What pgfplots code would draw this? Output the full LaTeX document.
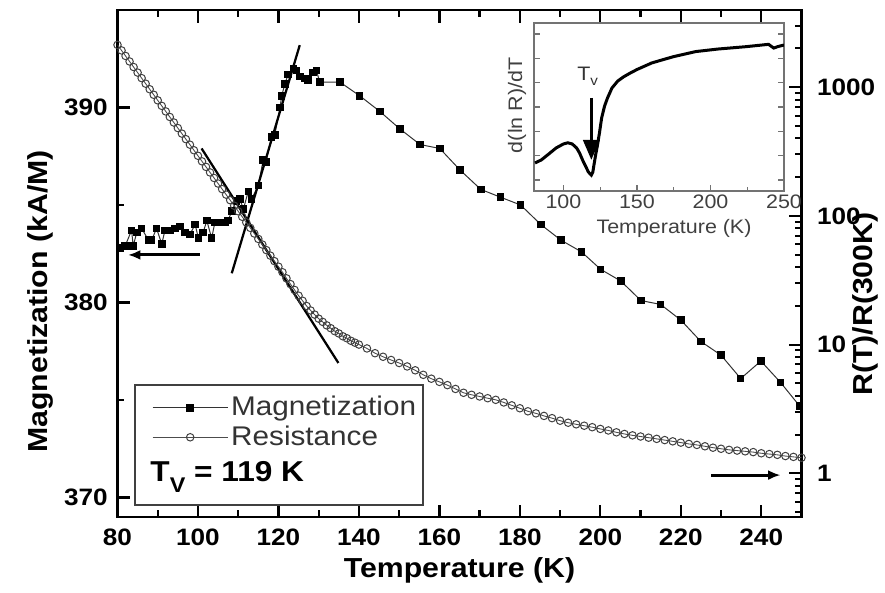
\documentclass[border=0pt]{standalone}
\usepackage{fontspec}
\setmainfont{Liberation Sans}[FakeStretch=1.1]
\usepackage{pgfplots}
\pgfplotsset{compat=1.18}
\usetikzlibrary{arrows.meta}

% 1 px of the reference = 0.4pt
\begin{document}
\begin{tikzpicture}
\useasboundingbox (-47pt,-30pt) rectangle (307pt,206.8pt);

% ---- main axis: magnetization (left, linear)
\begin{axis}[
    at={(0pt,0pt)}, anchor=south west,
    scale only axis, width=273.6pt, height=202.8pt,
    xmin=80, xmax=250, ymin=369, ymax=395,
    xtick={80,100,...,240}, minor x tick num=1,
    ytick={370,380,390}, minor y tick num=1,
    xtick pos=both, ytick pos=left, tick align=inside,
    major tick length=5pt, minor tick length=2.8pt,
    axis line style={line width=1pt},
    every tick/.append style={line width=0.9pt, black},
    /pgf/number format/assume math mode=true,
    ticklabel style={font=\fontsize{9.5}{11}\selectfont\bfseries},
    xticklabel style={anchor=base, yshift=-11.5pt},
    yticklabel style={anchor=east, inner sep=0pt, xshift=-3.7pt},
    xlabel={Temperature (K)},
    xlabel style={at={(axis description cs:0.5,0)}, anchor=base, yshift=-24pt,
        font=\fontsize{11}{12}\selectfont\bfseries},
    ylabel={Magnetization (kA/M)},
    ylabel style={at={(axis description cs:-0.113,0.425)}, anchor=center,
        font=\fontsize{11}{12}\selectfont\bfseries},
]
\addplot[black!80, line width=0.4pt, mark=square*, mark size=1.3pt,
    mark options={fill=black, draw=black}] coordinates {
(80.6,382.8) (81.9,382.9) (83.5,383.7) (83.9,382.9) (84.8,383.6) (86.0,383.8)
(87.7,383.2) (88.5,383.2) (89.7,383.8) (91.0,383.0) (91.8,383.7) (93.0,383.7)
(94.3,383.8) (95.5,383.9) (96.8,383.6) (98.0,383.5) (99.3,384.0) (100.1,383.3)
(101.3,383.6) (102.2,384.2) (103.4,383.3) (104.2,384.1) (105.5,384.1) (106.7,384.1)
(107.5,384.2) (108.4,384.7) (109.6,385.2) (110.4,385.3) (111.3,384.8) (112.5,385.7)
(113.3,385.3) (115.0,386.0) (116.2,387.3) (116.9,387.2) (118.3,388.5) (119.1,388.6)
(120.4,390.0) (120.8,390.6) (121.6,391.2) (122.4,391.7) (123.7,392.0) (124.5,391.9)
(125.3,391.6) (126.6,391.5) (127.4,391.4) (128.6,391.8) (129.4,391.9) (130.3,391.3)
(135.3,391.3) (140.2,390.6) (145.2,389.8) (150.2,388.9) (155.2,388.1) (160.1,387.9)
(165.1,386.8) (170.3,385.8) (175.2,385.4) (180.2,385.0) (185.2,384.0) (190.2,383.2)
(195.3,382.6) (200.1,381.7) (205.1,381.1) (210.1,380.1) (215.0,379.9) (220.0,379.1)
(225.0,378.0) (230.0,377.3) (234.9,376.1) (239.9,377.0) (244.8,375.9) (249.5,374.7)
};
% linear fits
\addplot[black, line width=0.9pt] coordinates {(108.4,381.5) (125.3,393.2)};
\addplot[black, line width=0.9pt] coordinates {(100.9,387.9) (134.9,376.9)};
% axis arrows
\draw[line width=1.2pt, -{Latex[length=5pt,width=4pt]}] (axis cs:100.5,382.44) -- (axis cs:82.6,382.44);
\draw[line width=1.2pt, -{Latex[length=5pt,width=4pt]}] (axis cs:227.6,371.15) -- (axis cs:244.8,371.15);
\end{axis}

% ---- second axis: resistance (right, log)
\begin{axis}[
    at={(0pt,0pt)}, anchor=south west,
    scale only axis, width=273.6pt, height=202.8pt,
    xmin=80, xmax=250, ymode=log, ymin=0.457, ymax=3980,
    axis x line=none, axis y line*=right, tick align=inside,
    major tick length=4.8pt, minor tick length=2.5pt,
    axis line style={line width=1pt},
    every tick/.append style={line width=0.8pt, black},
    log ticks with fixed point, /pgf/number format/1000 sep={},
    /pgf/number format/assume math mode=true,
    yticklabel style={font=\fontsize{9.5}{11}\selectfont\bfseries,
        anchor=west, inner sep=0pt, xshift=6pt},
    ylabel={R(T)/R(300K)},
    ylabel style={at={(axis description cs:1.093,0.42)}, anchor=center,
        font=\fontsize{11}{12}\selectfont\bfseries},
    legend style={at={(axis description cs:0.05,0.245)}, anchor=north west,
        draw=none, fill=none, inner sep=0pt, row sep=0pt,
        font=\fontsize{10.8}{12}\selectfont, text=black!80,
        nodes={inner sep=1.2pt}, cells={anchor=west}},
    legend image code/.code={\draw[mark repeat=2,mark phase=2]
        plot coordinates {(0pt,0pt) (15pt,0pt) (30pt,0pt)};},
]
\addlegendimage{black!80, line width=0.4pt, mark=square*, mark size=1.3pt,
    mark options={fill=black, draw=black}}
\addlegendentry{Magnetization}
\addplot[black!70, line width=0.35pt, mark=o, mark size=1.5pt,
    mark options={line width=0.4pt, draw=black!75}] coordinates {
(80,2133) (81,1932) (82,1750) (83,1585) (84,1435) (85,1299) (86,1176) (87,1065)
(88,964.3) (89,873.3) (90,790.7) (91,716.0) (92,648.4) (93,587.1) (94,531.7)
(95,481.4) (96,435.9) (97,394.8) (98,357.5) (99,323.7) (100,293.1) (101,265.4)
(102,240.3) (103,217.6) (104,197.1) (105,178.4) (106,161.6) (107,146.3) (108,132.5)
(109,120.0) (110,108.6) (111,98.4) (112,89.1) (113,80.7) (114,73.0) (115,66.2)
(116,59.9) (117,54.2) (118,49.1) (119,44.5) (120,40.3) (121,36.5) (122,32.7)
(123,29.5) (124,26.6) (125,24.0) (126,21.9) (127,19.95) (128,18.4) (129,17.1)
(130,15.9) (131,15.0) (132,14.1) (133,13.4) (134,12.7) (135,12.2) (136,11.6)
(137,11.2) (138,10.7) (139,10.35) (140,10.0)
(142,9.33) (144,8.57) (146,8.04) (148,7.59) (150,7.19) (152,6.76) (154,6.31)
(156,5.82) (158,5.43) (160,5.13) (162,4.84) (164,4.52) (166,4.22) (168,4.07)
(170,3.95) (172,3.83) (174,3.72) (176,3.55) (178,3.37) (180,3.20) (182,3.03)
(184,2.92) (186,2.79) (188,2.68) (190,2.56) (192,2.47) (194,2.40) (196,2.34)
(198,2.28) (200,2.21) (202,2.15) (204,2.08) (206,2.02) (208,1.97) (210,1.93)
(212,1.89) (214,1.85) (216,1.81) (218,1.77) (220,1.73) (222,1.69) (224,1.66)
(226,1.62) (228,1.58) (230,1.55) (232,1.52) (234,1.50) (236,1.48) (238,1.46)
(240,1.43) (242,1.41) (244,1.39) (246,1.36) (248,1.34) (250,1.32)
};
\addlegendentry{Resistance}
\draw[line width=0.8pt, black!75] (rel axis cs:0.0256,0.0237) rectangle (rel axis cs:0.447,0.260);
\node[anchor=base west, inner sep=0pt, font=\fontsize{11.5}{12}\selectfont\bfseries]
    at (rel axis cs:0.0475,0.0696)
    {T\raisebox{-4.5pt}{\fontsize{8.5}{9}\selectfont V} = 119 K};
\end{axis}

% ---- inset: d(ln R)/dT
\begin{axis}[
    at={(166.6pt,130.4pt)}, anchor=south west,
    scale only axis, width=100pt, height=67.2pt,
    xmin=80, xmax=250, ymin=0, ymax=1,
    xtick={100,150,200,250}, minor x tick num=1, xtick pos=bottom,
    ytick={0.065,0.21,0.355,0.5,0.645,0.79,0.935}, yticklabels={}, ytick pos=both,
    tick align=inside, major tick length=2.5pt, minor tick length=1.5pt,
    axis line style={black!55, line width=0.7pt},
    every tick/.append style={black!55, line width=0.5pt},
    axis background/.style={fill=white},
    /pgf/number format/assume math mode=true,
    ticklabel style={font=\fontsize{7.8}{9}\selectfont, text=black!75},
    xticklabel style={anchor=base, yshift=-6.9pt},
    xlabel={Temperature (K)},
    xlabel style={at={(axis description cs:0.56,0)}, anchor=base, yshift=-16.8pt,
        font=\fontsize{7.8}{9}\selectfont, text=black!75},
    ylabel={d(ln R)/dT},
    ylabel style={at={(axis description cs:-0.068,0.51)}, anchor=center,
        font=\fontsize{7.8}{9}\selectfont, text=black!75},
]
\addplot[black, line width=1.2pt] coordinates {
(80.7,0.167) (85,0.185) (90,0.22) (95,0.256) (100,0.28) (103,0.287) (106,0.28)
(109,0.256) (111,0.226) (113,0.185) (115,0.149) (117,0.113) (119,0.095) (120,0.113)
(121,0.167) (122,0.22) (123,0.264) (124.5,0.345) (126,0.435) (128,0.506) (130,0.554)
(133,0.613) (137,0.655) (141,0.68) (145,0.70) (150,0.723) (160,0.762) (167,0.78)
(175,0.80) (190,0.83) (205,0.845) (224,0.859) (235,0.869) (239.5,0.873) (243,0.851)
(246,0.86) (250,0.869)
};
\draw[line width=1.2pt, -{Triangle[length=8pt,width=6.5pt]}] (axis cs:119,0.554) -- (axis cs:119,0.185);
\node[font=\fontsize{7.8}{9}\selectfont, text=black!80, inner sep=0pt]
    at (axis cs:116.5,0.68) {T\raisebox{-2pt}{\fontsize{5.5}{6}\selectfont v}};
\end{axis}
\end{tikzpicture}
\end{document}
